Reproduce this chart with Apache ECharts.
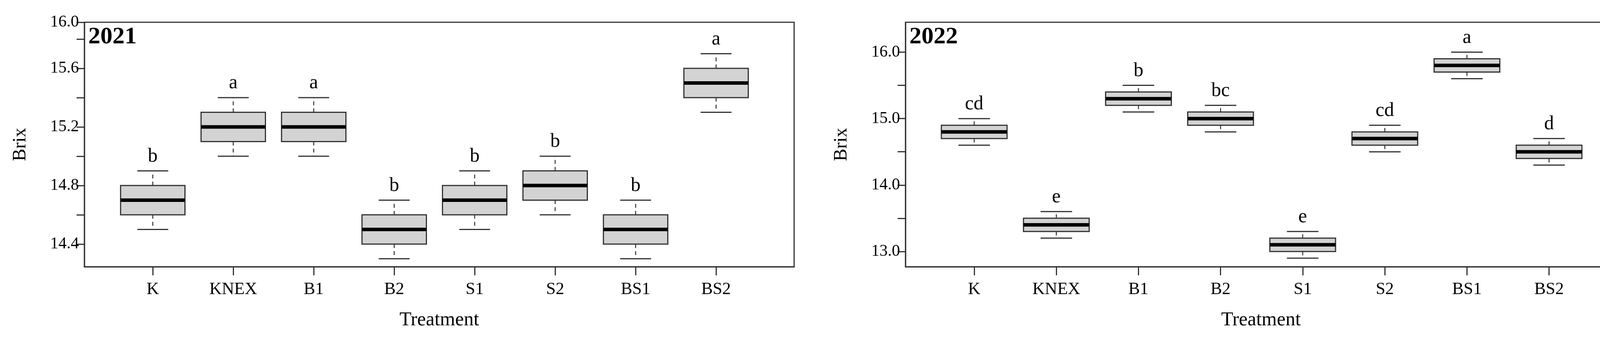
<!DOCTYPE html>
<html>
<head>
<meta charset="utf-8">
<script src="https://cdn.jsdelivr.net/npm/echarts@6/dist/echarts.min.js"></script>
<style>html,body{margin:0;padding:0;background:#fff}#main{width:4157px;height:868px}</style>
</head>
<body>
<div id="main"></div>
<script>
// treatments, one box per treatment
const treatments = ['K', 'KNEX', 'B1', 'B2', 'S1', 'S2', 'BS1', 'BS2'];

// 2021: [lower whisker, Q1, median, Q3, upper whisker]
const box2021 = [
  [14.5, 14.6, 14.7, 14.8, 14.9],
  [15.0, 15.1, 15.2, 15.3, 15.4],
  [15.0, 15.1, 15.2, 15.3, 15.4],
  [14.3, 14.4, 14.5, 14.6, 14.7],
  [14.5, 14.6, 14.7, 14.8, 14.9],
  [14.6, 14.7, 14.8, 14.9, 15.0],
  [14.3, 14.4, 14.5, 14.6, 14.7],
  [15.3, 15.4, 15.5, 15.6, 15.7]
];
const letters2021 = ['b', 'a', 'a', 'b', 'b', 'b', 'b', 'a'];

// 2022
const box2022 = [
  [14.6, 14.7, 14.8, 14.9, 15.0],
  [13.2, 13.3, 13.4, 13.5, 13.6],
  [15.1, 15.2, 15.3, 15.4, 15.5],
  [14.8, 14.9, 15.0, 15.1, 15.2],
  [12.9, 13.0, 13.1, 13.2, 13.3],
  [14.5, 14.6, 14.7, 14.8, 14.9],
  [15.6, 15.7, 15.8, 15.9, 16.0],
  [14.3, 14.4, 14.5, 14.6, 14.7]
];
const letters2022 = ['cd', 'e', 'b', 'bc', 'e', 'cd', 'a', 'd'];

const ticks2021 = [14.4, 14.6, 14.8, 15.0, 15.2, 15.4, 15.6, 15.8, 15.915];
const labels2021 = [14.4, 14.8, 15.2, 15.6, 15.915];
const ticks2022 = [13.0, 13.5, 14.0, 14.5, 15.0, 15.5, 16.0];
const labels2022 = [13.0, 14.0, 15.0, 16.0];

const FONT = 'Liberation Serif';
let chart = echarts.init(document.getElementById('main'));

function toData(boxes, letters) {
  return boxes.map((b, i) => [i + 1, b[0], b[1], b[2], b[3], b[4], letters[i]]);
}

function renderBox(params, api) {
  let x = api.value(0);
  let lo = api.coord([x, api.value(1)]);
  let q1 = api.coord([x, api.value(2)]);
  let med = api.coord([x, api.value(3)]);
  let q3 = api.coord([x, api.value(4)]);
  let hi = api.coord([x, api.value(5)]);
  let w = api.size([0.8, 0])[0];
  let cap = w * 0.48;
  let cx = lo[0];
  let stroke = {stroke: '#333', lineWidth: 3};
  let dashed = {stroke: '#333', lineWidth: 2.5, lineDash: [10, 8]};
  return {
    type: 'group',
    children: [
      {type: 'line', shape: {x1: cx, y1: q3[1], x2: cx, y2: hi[1]}, style: dashed},
      {type: 'line', shape: {x1: cx, y1: q1[1], x2: cx, y2: lo[1]}, style: dashed},
      {type: 'line', shape: {x1: cx - cap / 2, y1: hi[1], x2: cx + cap / 2, y2: hi[1]}, style: stroke},
      {type: 'line', shape: {x1: cx - cap / 2, y1: lo[1], x2: cx + cap / 2, y2: lo[1]}, style: stroke},
      {type: 'rect', shape: {x: cx - w / 2, y: q3[1], width: w, height: q1[1] - q3[1]},
        style: {fill: '#d3d3d3', stroke: '#333', lineWidth: 3}},
      {type: 'line', shape: {x1: cx - w / 2, y1: med[1], x2: cx + w / 2, y2: med[1]},
        style: {stroke: '#000', lineWidth: 9}},
      {type: 'text', x: cx, y: hi[1] - 12,
        style: {text: api.value(6), fontFamily: FONT, fontSize: 50, fill: '#000', align: 'center', verticalAlign: 'bottom'}}
    ]
  };
}

function yAxis(idx, min, max, ticks, labels, fmt) {
  return {
    type: 'value', gridIndex: idx, min: min, max: max,
    name: 'Brix', nameLocation: 'middle', nameGap: 140, nameRotate: 90,
    nameTextStyle: {fontFamily: FONT, fontSize: 48, color: '#000'},
    axisLine: {show: true, lineStyle: {color: '#333', width: 3}},
    axisTick: {show: true, inside: false, length: 20, customValues: ticks, lineStyle: {color: '#333', width: 3}},
    axisLabel: {customValues: labels, formatter: fmt, fontFamily: FONT, fontSize: 42, color: '#000', margin: 14},
    splitLine: {show: false}
  };
}

function xAxis(idx, min, max) {
  return {
    type: 'value', gridIndex: idx, min: min, max: max,
    name: 'Treatment', nameLocation: 'middle', nameGap: 112,
    nameTextStyle: {fontFamily: FONT, fontSize: 50, color: '#000'},
    axisLine: {show: true, lineStyle: {color: '#333', width: 3}},
    axisTick: {show: true, length: 22, customValues: [1, 2, 3, 4, 5, 6, 7, 8], lineStyle: {color: '#333', width: 3}},
    axisLabel: {customValues: [1, 2, 3, 4, 5, 6, 7, 8], formatter: v => treatments[Math.round(v) - 1],
      fontFamily: FONT, fontSize: 44, color: '#000', margin: 36},
    splitLine: {show: false}
  };
}

chart.setOption({
  animation: false,
  grid: [
    {left: 216, top: 57, width: 1817, height: 626, show: true, borderColor: '#333', borderWidth: 3},
    {left: 2318, top: 57, width: 1820, height: 626, show: true, borderColor: '#333', borderWidth: 3}
  ],
  xAxis: [xAxis(0, 0.15, 8.97), xAxis(1, 0.163, 8.82)],
  yAxis: [
    yAxis(0, 14.245, 15.915, ticks2021, labels2021, v => v > 15.9 ? '16.0' : v.toFixed(1)),
    yAxis(1, 12.77, 16.45, ticks2022, labels2022, v => v.toFixed(1))
  ],
  graphic: [
    {type: 'text', left: 226, top: 64, style: {text: '2021', fontFamily: FONT, fontSize: 62, fontWeight: 'bold', fill: '#000'}},
    {type: 'text', left: 2328, top: 64, style: {text: '2022', fontFamily: FONT, fontSize: 62, fontWeight: 'bold', fill: '#000'}}
  ],
  series: [
    {type: 'custom', xAxisIndex: 0, yAxisIndex: 0, renderItem: renderBox, data: toData(box2021, letters2021)},
    {type: 'custom', xAxisIndex: 1, yAxisIndex: 1, renderItem: renderBox, data: toData(box2022, letters2022)}
  ]
});
</script>
</body>
</html>
